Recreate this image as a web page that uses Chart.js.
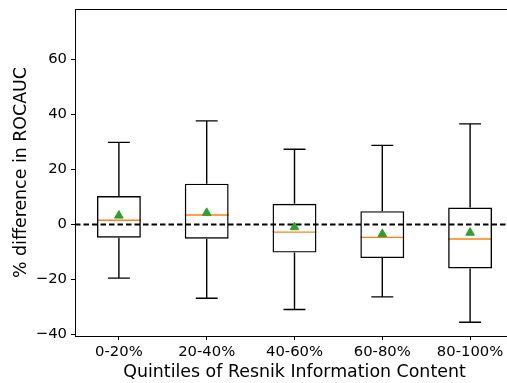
<!DOCTYPE html>
<html>
<head>
<meta charset="utf-8">
<script src="https://cdn.jsdelivr.net/npm/chart.js@4/dist/chart.umd.min.js"></script>
<style>
  html, body { margin: 0; padding: 0; background: #fff; overflow: hidden; }
  #wrap { width: 520px; height: 383px; }
</style>
</head>
<body>
<div id="wrap"><canvas id="chart" width="520" height="383"></canvas></div>
<script>
// ROCAUC difference per Resnik information content quintile
const quintiles = ['0-20%', '20-40%', '40-60%', '60-80%', '80-100%']
const whiskerLow = [-19.5, -26.8, -30.9, -26.3, -35.5]
const q1 = [-4.8, -5.2, -10.2, -12.2, -16.0]
const medians = [1.5, 3.4, -2.8, -4.7, -5.3]
const q3 = [10.3, 14.8, 7.5, 4.8, 6.1]
const whiskerHigh = [29.8, 37.6, 27.3, 28.7, 36.5]
const means = [3.2, 4.2, -1.0, -3.5, -3.0]
const yTicks = [-40, -20, 0, 20, 40, 60]

const font = 'DejaVu Sans'

// whiskers, caps, medians, the zero reference line and the top spine
const boxExtras = {
  id: 'boxExtras',
  beforeDatasetsDraw(chart) {
    const { ctx, chartArea } = chart
    const x = chart.scales.x
    const y = chart.scales.y
    const boxes = chart.getDatasetMeta(0).data
    ctx.save()

    // dashed line at zero
    ctx.strokeStyle = '#000'
    ctx.lineWidth = 2
    ctx.setLineDash([5.5, 3])
    ctx.beginPath()
    ctx.moveTo(chartArea.left, y.getPixelForValue(0))
    ctx.lineTo(chartArea.right, y.getPixelForValue(0))
    ctx.stroke()
    ctx.setLineDash([])

    quintiles.forEach((q, i) => {
      const cx = x.getPixelForValue(i)
      const half = boxes[i].width / 2
      const cap = half / 2
      ctx.strokeStyle = '#000'
      ctx.lineWidth = 1.4
      ctx.beginPath()
      ctx.moveTo(cx, y.getPixelForValue(q3[i]))
      ctx.lineTo(cx, y.getPixelForValue(whiskerHigh[i]))
      ctx.moveTo(cx, y.getPixelForValue(q1[i]))
      ctx.lineTo(cx, y.getPixelForValue(whiskerLow[i]))
      ctx.moveTo(cx - cap, y.getPixelForValue(whiskerHigh[i]))
      ctx.lineTo(cx + cap, y.getPixelForValue(whiskerHigh[i]))
      ctx.moveTo(cx - cap, y.getPixelForValue(whiskerLow[i]))
      ctx.lineTo(cx + cap, y.getPixelForValue(whiskerLow[i]))
      ctx.stroke()

      ctx.strokeStyle = '#ff7f0e'
      ctx.beginPath()
      ctx.moveTo(cx - half, y.getPixelForValue(medians[i]))
      ctx.lineTo(cx + half, y.getPixelForValue(medians[i]))
      ctx.stroke()
    })

    // top spine
    ctx.strokeStyle = '#000'
    ctx.lineWidth = 1
    ctx.beginPath()
    ctx.moveTo(chartArea.left, Math.round(chartArea.top) + 0.5)
    ctx.lineTo(chartArea.right, Math.round(chartArea.top) + 0.5)
    ctx.stroke()
    ctx.restore()
  },
}

new Chart(document.getElementById('chart'), {
  type: 'bar',
  data: {
    labels: quintiles,
    datasets: [
      {
        data: quintiles.map((q, i) => [q1[i], q3[i]]),
        backgroundColor: 'rgba(0,0,0,0)',
        borderColor: '#000',
        borderWidth: 1.4,
        borderSkipped: false,
        categoryPercentage: 1,
        barPercentage: 0.5,
      },
      {
        type: 'line',
        data: means,
        showLine: false,
        pointStyle: 'triangle',
        pointRadius: 5,
        pointBackgroundColor: '#2ca02c',
        pointBorderColor: '#2ca02c',
        pointBorderWidth: 1,
      },
    ],
  },
  options: {
    responsive: false,
    animation: false,
    layout: { padding: { top: 9, right: 6, left: 0, bottom: 0 } },
    plugins: { legend: { display: false }, tooltip: { enabled: false } },
    scales: {
      x: {
        offset: true,
        grid: { display: true, offset: false, drawOnChartArea: false, tickLength: 4, color: '#000' },
        border: { display: true, color: '#000', width: 1 },
        ticks: { color: '#000', font: { family: font, size: 14.8 }, padding: 3, maxRotation: 0 },
        title: {
          display: true,
          text: 'Quintiles of Resnik Information Content',
          color: '#000',
          font: { family: font, size: 17.4 },
          padding: { top: 0, bottom: 0 },
        },
        afterFit(scale) { scale.height = 47 },
      },
      y: {
        min: -40.5,
        max: 78.2,
        grid: { display: true, drawOnChartArea: false, tickLength: 4, color: '#000' },
        border: { display: true, color: '#000', width: 1 },
        ticks: {
          color: '#000',
          font: { family: font, size: 14.8 },
          padding: 4,
          callback: (v) => (v < 0 ? '\u2212' + Math.abs(v) : String(v)),
        },
        afterBuildTicks(scale) { scale.ticks = yTicks.map((v) => ({ value: v })) },
        title: {
          display: true,
          text: '% difference in ROCAUC',
          color: '#000',
          font: { family: font, size: 17.4 },
          padding: { top: 11, bottom: 0 },
        },
        afterFit(scale) {
          scale.width = 75
          scale.paddingTop = 0
          scale.paddingBottom = 0
        },
      },
    },
  },
  plugins: [boxExtras],
})
</script>
</body>
</html>
